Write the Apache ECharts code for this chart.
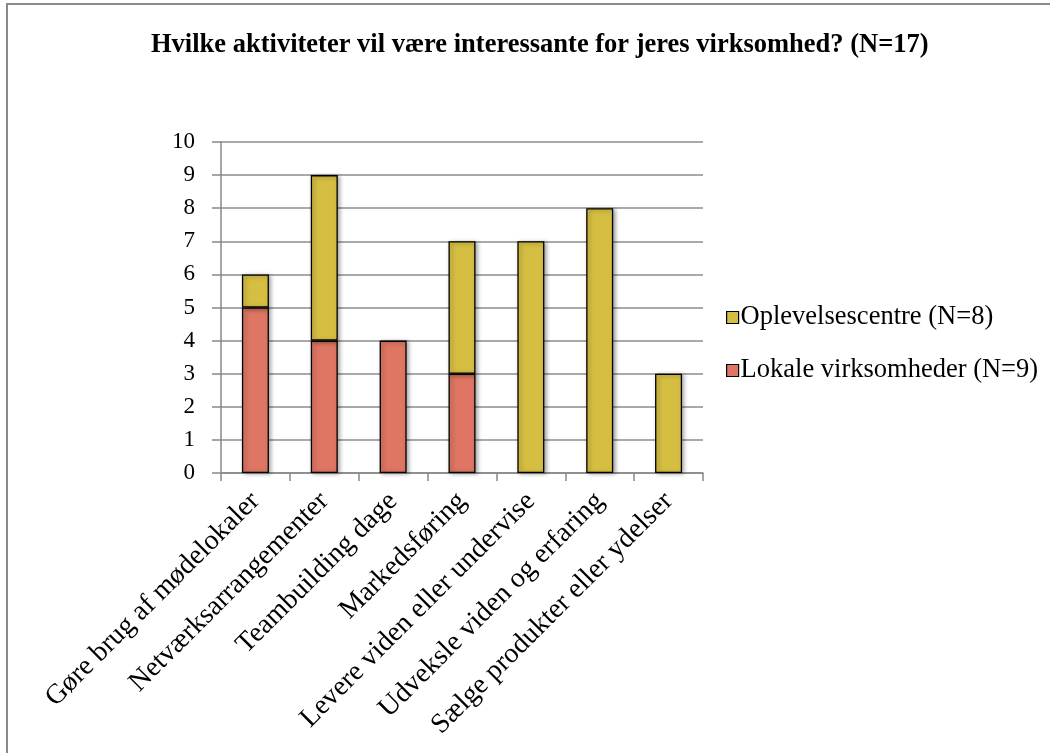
<!DOCTYPE html>
<html>
<head>
<meta charset="utf-8">
<script src="https://cdn.jsdelivr.net/npm/echarts@6/dist/echarts.min.js"></script>
<style>
  html, body { margin: 0; padding: 0; background: #fff; }
  #chart { width: 1050px; height: 753px; }
</style>
</head>
<body>
<div id="chart"></div>
<script>
// Activities asked about, one bar per activity
const categories = [
  'Gøre brug af mødelokaler',
  'Netværksarrangementer',
  'Teambuilding dage',
  'Markedsføring',
  'Levere viden eller undervise',
  'Udveksle viden og erfaring',
  'Sælge produkter eller ydelser'
];
// Number of respondents per group
const lokale = [5, 4, 4, 3, 0, 0, 0];
const oplevelse = [1, 5, 0, 4, 7, 8, 3];
const yTicks = [0, 1, 2, 3, 4, 5, 6, 7, 8, 9, 10];

const titleText = 'Hvilke aktiviteter vil være interessante for jeres virksomhed? (N=17)';
const nameLokale = 'Lokale virksomheder (N=9)';
const nameOplevelse = 'Oplevelsescentre (N=8)';

const serif = '"Liberation Serif", "Times New Roman", serif';
const red = '#DE7663';
const yellow = '#D5BE42';

// empty segments are left out so no border is drawn on the axis
const asBars = arr => arr.map(v => (v === 0 ? null : v));

const barStyle = color => ({
  color: color,
  borderColor: '#000',
  borderWidth: 1.3,
  shadowColor: 'rgba(0,0,0,0.35)',
  shadowBlur: 4,
  shadowOffsetX: 2,
  shadowOffsetY: 1
});

const chart = echarts.init(document.getElementById('chart'), null, { renderer: 'canvas' });
chart.setOption({
  animation: false,
  backgroundColor: '#fff',
  graphic: [{
    type: 'rect',
    shape: { x: 7, y: 4, width: 1100, height: 800 },
    style: { fill: 'none', stroke: '#8a8a8a', lineWidth: 2 },
    silent: true
  }],
  title: {
    text: titleText,
    left: 146,
    top: 27,
    textStyle: { fontFamily: serif, fontWeight: 'bold', fontSize: 26.5, color: '#000' }
  },
  legend: {
    orient: 'vertical',
    left: 721,
    top: 299,
    itemWidth: 12,
    itemHeight: 12,
    itemGap: 26,
    icon: 'rect',
    data: [nameOplevelse, nameLokale],
    textStyle: { fontFamily: serif, fontSize: 26.5, color: '#000', padding: [0, 0, 0, -3] },
    itemStyle: { borderColor: '#000', borderWidth: 1.2 }
  },
  grid: { left: 221, right: 347, top: 142, bottom: 280 },
  xAxis: {
    type: 'category',
    data: categories,
    axisLine: { lineStyle: { color: '#888', width: 1.5 } },
    axisTick: { show: true, length: 8, lineStyle: { color: '#888', width: 1.5 } },
    axisLabel: {
      rotate: 45,
      interval: 0,
      margin: 24,
      fontFamily: serif,
      fontSize: 28,
      color: '#000'
    }
  },
  yAxis: {
    type: 'value',
    min: yTicks[0],
    max: yTicks[yTicks.length - 1],
    interval: 1,
    axisLine: { show: true, lineStyle: { color: '#888', width: 1.5 } },
    axisTick: { show: true, length: 9, lineStyle: { color: '#888', width: 1.5 } },
    axisLabel: { fontFamily: serif, fontSize: 23, color: '#000', margin: 26 },
    splitLine: { show: true, lineStyle: { color: '#8c8c8c', width: 1.5 } }
  },
  series: [
    {
      name: nameLokale,
      type: 'bar',
      stack: 'total',
      barWidth: 27,
      data: asBars(lokale),
      itemStyle: barStyle(red)
    },
    {
      name: nameOplevelse,
      type: 'bar',
      stack: 'total',
      barWidth: 27,
      data: asBars(oplevelse),
      itemStyle: barStyle(yellow)
    }
  ]
});
</script>
</body>
</html>
